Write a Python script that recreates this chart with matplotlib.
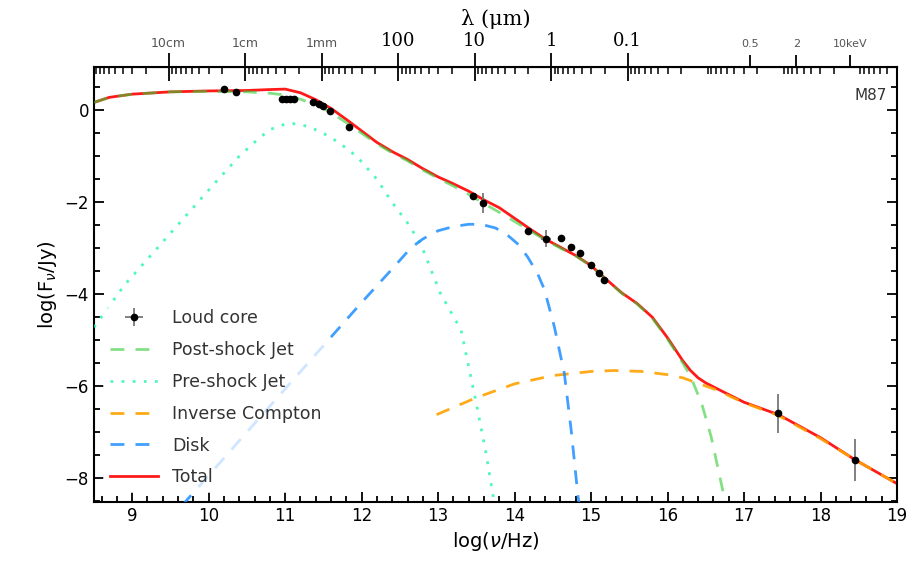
import numpy as np
import matplotlib.pyplot as plt
from matplotlib.ticker import MultipleLocator, FixedLocator

# ---- data (log nu [Hz], log F_nu [Jy]) ----
obs_x = [10.20, 10.36, 10.96, 11.01, 11.06, 11.11, 11.37, 11.44, 11.50, 11.58, 11.84,
         13.45, 13.59, 14.17, 14.41, 14.61, 14.74, 14.85, 15.00, 15.10, 15.17,
         17.45, 18.45]
obs_y = [0.46, 0.39, 0.24, 0.24, 0.24, 0.24, 0.17, 0.13, 0.09, -0.02, -0.37,
         -1.87, -2.01, -2.62, -2.79, -2.77, -2.97, -3.10, -3.37, -3.53, -3.70,
         -6.59, -7.61]
obs_yerr = [0, 0, 0, 0, 0, 0, 0, 0, 0, 0, 0,
            0, 0.22, 0, 0.18, 0, 0, 0, 0, 0, 0,
            0.43, 0.45]
obs_xerr = [0, 0, 0, 0, 0, 0, 0, 0, 0, 0, 0,
            0, 0, 0, 0.06, 0, 0, 0, 0, 0, 0,
            0, 0]

tot_x = [8.5, 8.7, 9.0, 9.5, 10.0, 10.5, 10.8, 11.0, 11.2, 11.4, 11.6, 11.8, 12.0,
         12.2, 12.4, 12.6, 12.8, 13.0, 13.2, 13.4, 13.6, 13.8, 14.0, 14.2, 14.4,
         14.6, 14.8, 15.0, 15.2, 15.4, 15.6, 15.8, 16.0, 16.1, 16.2, 16.3, 16.4,
         16.5, 16.7, 17.0, 17.45, 18.0, 18.45, 19.0]
tot_y = [0.17, 0.28, 0.35, 0.40, 0.42, 0.43, 0.45, 0.46, 0.38, 0.23, 0.04, -0.20, -0.45,
         -0.70, -0.90, -1.07, -1.27, -1.45, -1.60, -1.76, -1.95, -2.12, -2.35, -2.58, -2.80,
         -2.98, -3.16, -3.38, -3.68, -3.97, -4.20, -4.50, -4.95, -5.20, -5.45, -5.66, -5.82,
         -5.93, -6.10, -6.35, -6.62, -7.12, -7.60, -8.12]

post_x = [8.5, 8.7, 9.0, 9.5, 10.0, 10.5, 10.8, 11.0, 11.2, 11.4, 11.6, 11.8, 12.0,
          12.2, 12.4, 12.6, 12.8, 13.0, 13.2, 13.4, 13.6, 13.8, 14.0, 14.2, 14.4,
          14.6, 14.8, 15.0, 15.2, 15.4, 15.6, 15.8, 16.0, 16.15, 16.3, 16.45, 16.57,
          16.7, 16.78]
post_y = [0.17, 0.28, 0.35, 0.40, 0.41, 0.40, 0.37, 0.33, 0.24, 0.12, -0.05, -0.27, -0.50,
          -0.73, -0.93, -1.10, -1.30, -1.48, -1.65, -1.83, -2.03, -2.22, -2.42, -2.62, -2.82,
          -3.00, -3.17, -3.39, -3.69, -3.98, -4.21, -4.52, -4.98, -5.36, -5.78, -6.40, -7.10,
          -8.10, -8.70]

pre_x = [8.5, 8.9, 9.3, 9.7, 10.1, 10.4, 10.63, 10.8, 11.0, 11.1, 11.3, 11.5, 11.7,
         11.94, 12.2, 12.38, 12.6, 12.77, 13.03, 13.3, 13.49, 13.62, 13.75]
pre_y = [-4.72, -3.80, -3.05, -2.30, -1.55, -1.00, -0.65, -0.42, -0.30, -0.29, -0.35, -0.50, -0.70,
         -1.01, -1.50, -1.96, -2.45, -2.90, -3.98, -4.78, -6.30, -7.40, -8.70]

ic_x = [12.98, 13.5, 14.0, 14.5, 15.0, 15.3, 15.66, 16.0, 16.2, 16.4, 16.62, 16.75,
        17.0, 17.45, 18.0, 18.45, 19.0]
ic_y = [-6.62, -6.25, -5.95, -5.77, -5.68, -5.66, -5.68, -5.75, -5.82, -5.94, -6.07, -6.17,
        -6.36, -6.64, -7.14, -7.60, -8.12]

disk_x = [9.65, 10.5, 11.0, 11.5, 12.0, 12.4, 12.64, 12.8, 13.0, 13.2, 13.4, 13.56,
          13.75, 13.91, 14.05, 14.17, 14.3, 14.39, 14.52, 14.65, 14.74, 14.83, 14.86]
disk_y = [-8.60, -7.00, -6.06, -5.12, -4.18, -3.45, -3.00, -2.80, -2.62, -2.53, -2.48, -2.48,
          -2.56, -2.72, -2.92, -3.19, -3.55, -3.90, -4.71, -5.72, -6.96, -8.41, -8.70]

# top axis: wavelengths (m) and photon energies (keV)
lam_m = [0.1, 0.01, 1e-3, 1e-4, 1e-5, 1e-6, 1e-7]
lam_labels = ['10cm', '1cm', '1mm', '100', '10', '1', '0.1']
kev = [0.5, 2, 10]
kev_labels = ['0.5', '2', '10keV']

c = 2.998e8
h_kev = 4.1357e-18  # keV s

fig = plt.figure(figsize=(9.14, 5.67), dpi=100)
ax = fig.add_axes([0.1028, 0.1146, 0.8786, 0.7672])

ax.plot(tot_x, tot_y, color='#ff1a1a', lw=2, zorder=2, label='Total')
ax.plot(post_x, post_y, color='#33cc33', lw=2, alpha=0.6, dashes=(5, 4), zorder=3,
        label='Post-shock Jet')
ax.plot(pre_x, pre_y, color='#22f5b0', lw=2, alpha=0.8, linestyle=(0, (1, 3)), zorder=3,
        label='Pre-shock Jet')
ax.plot(ic_x, ic_y, color='#ffa200', lw=2, alpha=0.9, dashes=(5, 4), zorder=3,
        label='Inverse Compton')
ax.plot(disk_x, disk_y, color='#1f8fff', lw=2, alpha=0.85, dashes=(5, 4), zorder=3,
        label='Disk')
ax.errorbar(obs_x, obs_y, yerr=obs_yerr, xerr=obs_xerr, fmt='o', color='k', ms=4.5,
            ecolor='#777777', elinewidth=1.3, capsize=0, zorder=5, label='Loud core')

ax.set_xlim(8.5, 19)
ax.set_ylim(-8.52, 0.94)
ax.xaxis.set_major_locator(MultipleLocator(1))
ax.xaxis.set_minor_locator(MultipleLocator(0.2))
ax.yaxis.set_major_locator(MultipleLocator(2))
ax.yaxis.set_minor_locator(MultipleLocator(0.5))
ax.tick_params(which='both', direction='in', bottom=True, left=True, right=True, top=False,
               width=1.3, labelsize=12)
ax.tick_params(which='major', length=7)
ax.tick_params(which='minor', length=4)
for s in ax.spines.values():
    s.set_linewidth(1.5)

ax.set_xlabel(r'log($\nu$/Hz)', fontsize=14)
ax.set_ylabel(r'log(F$_\nu$/Jy)', fontsize=14)

ax.text(0.987, 0.935, 'M87', transform=ax.transAxes, ha='right', va='center',
        fontsize=11, color='#333333')

# top axis in wavelength
top = ax.secondary_xaxis('top')
top.set_xticks([np.log10(c / l) for l in lam_m])
top.set_xticklabels(lam_labels)
minor_pos = []
for k in range(-12, 0):
    for m in range(2, 10):
        p = np.log10(c / (m * 10.0 ** k))
        if 8.5 < p < 19:
            minor_pos.append(p)
top.xaxis.set_minor_locator(FixedLocator(minor_pos))
top.tick_params(which='major', direction='inout', length=20, width=1.3, pad=2)
top.tick_params(which='minor', direction='in', length=5, width=1.1)
for i, t in enumerate(top.get_xticklabels()):
    if 'm' in lam_labels[i]:
        t.set_fontsize(9)
        t.set_color('#555555')
    else:
        t.set_fontsize(13)
        t.set_family('DejaVu Serif')
top.set_xlabel('λ (μm)', fontsize=15, family='DejaVu Serif', labelpad=5)

# top axis in photon energy
top2 = ax.secondary_xaxis('top')
top2.set_xticks([np.log10(e / h_kev) for e in kev])
top2.set_xticklabels(kev_labels, fontsize=8, color='#555555')
top2.tick_params(which='major', direction='out', length=9, width=1.3, pad=4)
top2.spines['top'].set_visible(False)

leg = ax.legend(handles=[ax.containers[0]] + ax.get_lines()[1:5] + [ax.get_lines()[0]],
                labels=['Loud core', 'Post-shock Jet', 'Pre-shock Jet', 'Inverse Compton',
                        'Disk', 'Total'],
                loc='lower left', bbox_to_anchor=(0.0, 0.0), fontsize=12.5, frameon=True,
                framealpha=0.75, edgecolor='none', handlelength=2.8, labelspacing=0.8,
                borderaxespad=0.5)
for t in leg.get_texts():
    t.set_color('#333333')

fig.savefig('out.png', dpi=100)
